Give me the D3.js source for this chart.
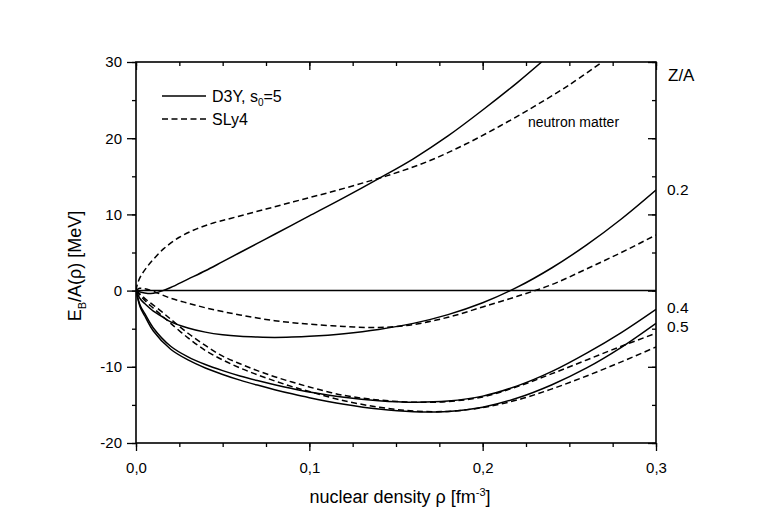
<!DOCTYPE html>
<html><head><meta charset="utf-8">
<script src="https://cdn.jsdelivr.net/npm/d3@7"></script>
<style>
html,body{margin:0;padding:0;background:#fff;}
text{font-family:"Liberation Sans",Arial,Helvetica,sans-serif;fill:#000;}
</style></head>
<body><svg id="c" width="763" height="532"></svg>
<script>
// ---- data (rho in fm^-3, E/A in MeV) ----
const xTicks = [0, 0.1, 0.2, 0.3];
const yTicks = [-20, -10, 0, 10, 20, 30];
const zaLabels = ["0.2", "0.4", "0.5"];

const d3yNeutron = [[0,0],[0.005,-0.3],[0.01,-0.35],[0.0155,0],[0.02,0.4],[0.03,1.5],[0.04,2.6],[0.05,3.8],[0.06,5.0],[0.07,6.2],[0.08,7.4],[0.09,8.6],[0.1,9.8],[0.12,12.2],[0.14,14.7],[0.16,17.3],[0.18,20.3],[0.2,23.7],[0.22,27.3],[0.234,30]];
const sly4Neutron = [[0,0],[0.001,1.0],[0.003,2.0],[0.006,3.0],[0.01,4.1],[0.016,5.5],[0.025,7.0],[0.035,8.1],[0.045,8.9],[0.055,9.5],[0.075,10.7],[0.095,11.9],[0.115,13.1],[0.135,14.4],[0.152,15.6],[0.17,17.1],[0.19,19.2],[0.21,21.6],[0.23,24.2],[0.25,27.0],[0.269,30]];
const d3y02 = [[0,0],[0.0025,-1.1],[0.005,-1.7],[0.01,-2.7],[0.015,-3.4],[0.02,-4.1],[0.03,-4.9],[0.04,-5.45],[0.05,-5.8],[0.06,-6.0],[0.07,-6.1],[0.08,-6.15],[0.09,-6.1],[0.1,-6.0],[0.12,-5.65],[0.14,-5.1],[0.16,-4.3],[0.18,-3.15],[0.2,-1.6],[0.22,0.45],[0.24,3.0],[0.26,6.0],[0.28,9.4],[0.3,13.2]];
const sly402 = [[0,0],[0.002,0.3],[0.005,0.25],[0.01,-0.1],[0.02,-1.0],[0.03,-1.65],[0.04,-2.25],[0.05,-2.75],[0.06,-3.2],[0.07,-3.6],[0.08,-3.95],[0.09,-4.2],[0.1,-4.4],[0.12,-4.7],[0.14,-4.85],[0.16,-4.45],[0.18,-3.5],[0.2,-2.15],[0.22,-0.75],[0.24,0.8],[0.26,2.85],[0.28,5.0],[0.3,7.3]];
const d3y04 = [[0,0],[0.0025,-2.0],[0.005,-3.0],[0.01,-4.9],[0.02,-7.3],[0.03,-8.7],[0.04,-9.7],[0.05,-10.5],[0.06,-11.2],[0.07,-11.8],[0.08,-12.35],[0.09,-12.85],[0.1,-13.3],[0.12,-14.0],[0.14,-14.45],[0.16,-14.65],[0.18,-14.5],[0.2,-13.85],[0.22,-12.5],[0.24,-10.6],[0.26,-8.2],[0.28,-5.5],[0.3,-2.45]];
const d3y05 = [[0,0],[0.0025,-2.2],[0.005,-3.3],[0.01,-5.3],[0.02,-7.7],[0.03,-9.1],[0.04,-10.15],[0.05,-11.0],[0.06,-11.75],[0.07,-12.4],[0.08,-13.0],[0.09,-13.55],[0.1,-14.05],[0.12,-14.9],[0.14,-15.55],[0.16,-15.9],[0.18,-15.85],[0.2,-15.3],[0.22,-14.1],[0.24,-12.35],[0.26,-10.15],[0.28,-7.45],[0.3,-4.3]];
const sly404 = [[0,0],[0.003,-0.6],[0.006,-1.2],[0.01,-1.9],[0.015,-2.8],[0.02,-3.75],[0.03,-5.6],[0.04,-7.2],[0.05,-8.6],[0.06,-9.6],[0.07,-10.5],[0.08,-11.3],[0.09,-12.0],[0.1,-12.65],[0.12,-13.75],[0.14,-14.35],[0.16,-14.65],[0.18,-14.55],[0.2,-13.95],[0.22,-12.6],[0.24,-10.9],[0.26,-9.1],[0.28,-7.3],[0.3,-5.6]];
const sly405 = [[0,0],[0.003,-0.8],[0.006,-1.5],[0.01,-2.3],[0.015,-3.3],[0.02,-4.3],[0.03,-6.2],[0.04,-7.85],[0.05,-9.1],[0.06,-10.15],[0.07,-11.05],[0.08,-11.85],[0.09,-12.6],[0.1,-13.25],[0.12,-14.45],[0.14,-15.3],[0.16,-15.8],[0.18,-15.85],[0.2,-15.35],[0.22,-14.35],[0.24,-12.9],[0.26,-11.2],[0.28,-9.35],[0.3,-7.4]];

const solidSeries = [d3yNeutron, d3y02, d3y04, d3y05];
const dashedSeries = [sly4Neutron, sly402, sly404, sly405];

// ---- layout ----
const L = 136, R = 656, T = 62, B = 443;
const svg = d3.select("#c");
const x = d3.scaleLinear().domain([0, 0.3]).range([L, R]);
const y = d3.scaleLinear().domain([-20, 30]).range([B, T]);
const DASH = "6,3.5";
const LW = 1.5;

svg.append("defs").append("clipPath").attr("id","clip")
  .append("rect").attr("x",L).attr("y",T).attr("width",R-L).attr("height",B-T);

const line = d3.line().x(d=>x(d[0])).y(d=>y(d[1])).curve(d3.curveCatmullRom.alpha(0.5));
const g = svg.append("g").attr("clip-path","url(#clip)");

// zero line
g.append("line").attr("x1",L).attr("x2",R).attr("y1",y(0)).attr("y2",y(0))
  .attr("stroke","#000").attr("stroke-width",LW);

solidSeries.forEach(s=>g.append("path").attr("d",line(s)).attr("fill","none")
  .attr("stroke","#000").attr("stroke-width",LW));
dashedSeries.forEach(s=>g.append("path").attr("d",line(s)).attr("fill","none")
  .attr("stroke","#000").attr("stroke-width",LW).attr("stroke-dasharray",DASH));

// ---- axes ----
const fmtX = d => d3.format(".1f")(d).replace(".", ",");
const fmtY = d => String(d);
const minorX = d3.range(0, 0.3001, 0.025);
const minorY = d3.range(-20, 30.001, 5);

function styleAxis(sel){
  sel.select(".domain").remove();
  sel.selectAll("line").attr("stroke","#000").attr("stroke-width",1.3);
  sel.selectAll("text").style("font-size","15px").style("font-family",'"Liberation Sans",Arial,sans-serif');
}
// bottom
svg.append("g").attr("transform",`translate(0,${B})`)
  .call(d3.axisBottom(x).tickValues(minorX).tickSize(4).tickFormat(""))
  .call(styleAxis);
svg.append("g").attr("transform",`translate(0,${B})`)
  .call(d3.axisBottom(x).tickValues(xTicks).tickSize(8).tickPadding(11).tickFormat(fmtX))
  .call(styleAxis);
// top (inward)
svg.append("g").attr("transform",`translate(0,${T})`)
  .call(d3.axisTop(x).tickValues(minorX).tickSize(-4).tickFormat(""))
  .call(styleAxis);
svg.append("g").attr("transform",`translate(0,${T})`)
  .call(d3.axisTop(x).tickValues(xTicks).tickSize(-8).tickFormat(""))
  .call(styleAxis);
// left (outward)
svg.append("g").attr("transform",`translate(${L},0)`)
  .call(d3.axisLeft(y).tickValues(minorY).tickSize(4).tickFormat(""))
  .call(styleAxis);
svg.append("g").attr("transform",`translate(${L},0)`)
  .call(d3.axisLeft(y).tickValues(yTicks).tickSize(9).tickPadding(5).tickFormat(fmtY))
  .call(styleAxis);
// right (inward)
svg.append("g").attr("transform",`translate(${R},0)`)
  .call(d3.axisRight(y).tickValues(minorY).tickSize(-4).tickFormat(""))
  .call(styleAxis);
svg.append("g").attr("transform",`translate(${R},0)`)
  .call(d3.axisRight(y).tickValues(yTicks).tickSize(-8).tickFormat(""))
  .call(styleAxis);

// frame
svg.append("rect").attr("x",L).attr("y",T).attr("width",R-L).attr("height",B-T)
  .attr("fill","none").attr("stroke","#000").attr("stroke-width",1.6);

// ---- titles ----
const xt = svg.append("text").attr("x",(L+R)/2+4).attr("y",503).attr("text-anchor","middle")
  .style("font-size","18px");
xt.append("tspan").text("nuclear density ρ [fm");
xt.append("tspan").attr("dy",-7).style("font-size","11px").text("-3");
xt.append("tspan").attr("dy",7).text("]");

const yt = svg.append("text").attr("transform",`translate(81,266) rotate(-90)`)
  .attr("text-anchor","middle").style("font-size","18px");
yt.append("tspan").text("E");
yt.append("tspan").attr("dy",5).style("font-size","11px").text("B");
yt.append("tspan").attr("dy",-5).text("/A(ρ) [MeV]");

// ---- legend ----
svg.append("line").attr("x1",162).attr("x2",206).attr("y1",96).attr("y2",96)
  .attr("stroke","#000").attr("stroke-width",LW);
svg.append("line").attr("x1",162).attr("x2",206).attr("y1",119).attr("y2",119)
  .attr("stroke","#000").attr("stroke-width",LW).attr("stroke-dasharray",DASH);
const l1 = svg.append("text").attr("x",212).attr("y",102).style("font-size","16px");
l1.append("tspan").text("D3Y, s");
l1.append("tspan").attr("dy",4).style("font-size","10px").text("0");
l1.append("tspan").attr("dy",-4).text("=5");
svg.append("text").attr("x",212).attr("y",125).style("font-size","16px").text("SLy4");

// ---- annotations ----
svg.append("text").attr("x",528).attr("y",127).style("font-size","14px").text("neutron matter");
svg.append("text").attr("x",668).attr("y",81).style("font-size","17px").text("Z/A");
const labY = [195, 312.5, 331.5];
zaLabels.forEach((t,i)=>svg.append("text").attr("x",667).attr("y",labY[i])
  .style("font-size","15.5px").text(t));
</script></body></html>
